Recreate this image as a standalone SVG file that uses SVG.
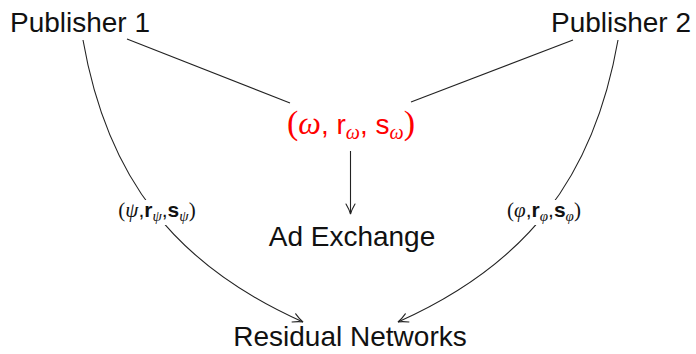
<svg xmlns="http://www.w3.org/2000/svg" width="696" height="354" viewBox="0 0 696 354">
  <style>
    .node { font-family: "Liberation Sans", "DejaVu Sans", sans-serif; font-size: 28px; fill: #111; text-anchor: middle; }
    .math { font-family: "Liberation Serif", "DejaVu Serif", serif; font-style: italic; }
    .paren { font-family: "Liberation Serif", "DejaVu Serif", serif; }
    .edge { fill: none; stroke: #222; stroke-width: 1.1; }
    .lbl { font-family: "Liberation Sans", "DejaVu Sans", sans-serif; font-size: 21px; fill: #111; text-anchor: middle; }
    .sub { font-size: 15px; }
  </style>
  <defs>
    <marker id="arr" viewBox="-11 -6 13 12" markerWidth="13" markerHeight="12" refX="0" refY="0" orient="auto" markerUnits="userSpaceOnUse">
      <path d="M-10,-4.5 Q-4,-1 0,0 Q-4,1 -10,4.5" fill="none" stroke="#222" stroke-width="1.1" stroke-linecap="round"/>
    </marker>
  </defs>
  <rect width="696" height="354" fill="#fff"/>

  <g id="connectors">
    <line class="edge" x1="127" y1="39" x2="290" y2="103"/>
    <line class="edge" x1="573" y1="40" x2="411" y2="102"/>
    <line class="edge" x1="350.5" y1="151" x2="350.5" y2="214" marker-end="url(#arr)"/>
    <path class="edge" d="M83,40 C107,178 175,265 303,322" marker-end="url(#arr)"/>
    <path class="edge" d="M618,40 C594,178 526,265 398,322" marker-end="url(#arr)"/>
  </g>

  <g id="label-psi">
    <rect x="106" y="200" width="104" height="25" fill="#fff"/>
    <text class="lbl" x="157" y="217"><tspan class="paren">(</tspan><tspan class="math">ψ</tspan>,<tspan font-weight="bold">r</tspan><tspan class="math sub" dy="4">ψ</tspan><tspan dy="-4">,</tspan><tspan font-weight="bold">s</tspan><tspan class="math sub" dy="4">ψ</tspan><tspan class="paren" dy="-4">)</tspan></text>
  </g>
  <g id="label-phi">
    <rect x="492" y="200" width="104" height="25" fill="#fff"/>
    <text class="lbl" x="544" y="217"><tspan class="paren">(</tspan><tspan class="math">φ</tspan>,<tspan font-weight="bold">r</tspan><tspan class="math sub" dy="4">φ</tspan><tspan dy="-4">,</tspan><tspan font-weight="bold">s</tspan><tspan class="math sub" dy="4">φ</tspan><tspan class="paren" dy="-4">)</tspan></text>
  </g>

  <g id="publisher1">
    <text class="node" x="80" y="32">Publisher 1</text>
  </g>
  <g id="publisher2">
    <text class="node" x="621" y="32">Publisher 2</text>
  </g>
  <g id="bid">
    <text class="node" x="351" y="134" style="fill:#f00"><tspan class="paren" font-size="34">(</tspan><tspan class="math" font-size="32">ω</tspan>, r<tspan class="math" font-size="20" dy="5">ω</tspan><tspan dy="-5">, s</tspan><tspan class="math" font-size="20" dy="5">ω</tspan><tspan class="paren" font-size="34" dy="-5">)</tspan></text>
  </g>
  <g id="ad-exchange">
    <text class="node" x="352" y="246">Ad Exchange</text>
  </g>
  <g id="residual-networks">
    <text class="node" x="350" y="346">Residual Networks</text>
  </g>
</svg>
